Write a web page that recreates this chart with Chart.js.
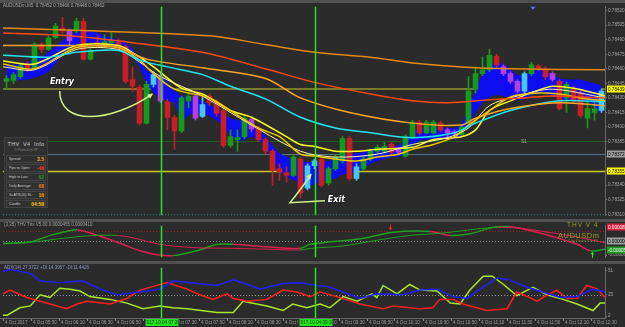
<!DOCTYPE html>
<html>
<head>
<meta charset="utf-8">
<title>AUDUSDm M5 - THV V4</title>
<script src="https://cdn.jsdelivr.net/npm/chart.js"></script>
<style>
  html, body { margin: 0; padding: 0; }
  body { width: 625px; height: 327px; background: #2b2b2b; position: relative; overflow: hidden; font-family: 'Liberation Sans', Arial, sans-serif; }
  canvas { position: absolute; left: 0; }
  .sep { position: absolute; left: 0; width: 625px; background: #505050; }
  .txt { position: absolute; white-space: nowrap; line-height: 1; }
  #info { position: absolute; left: 4px; top: 137px; width: 44px; height: 71px; background: #303030; border: 1px solid #3e3e3e; box-sizing: border-box; color: #cfcfcf; }
  #info .ttl { text-align: center; font-size: 5.5px; margin-top: 3px; letter-spacing: 0.3px; white-space: nowrap; }
  #info .sub { text-align: center; font-size: 3.2px; color: #8a8a8a; margin-top: 1px; margin-bottom: 3px; white-space: nowrap; }
  #info .row { display: flex; justify-content: space-between; align-items: center; height: 8px; margin: 0 1px 1px 1px; padding: 0 1px 0 2px; border: 1px solid #444; box-sizing: border-box; font-size: 3.5px; white-space: nowrap; overflow: hidden; }
  #info .row b { font-size: 5px; }
</style>
</head>
<body>
<div class="sep" style="top:0;height:3px"></div>
<canvas id="mainChart" width="625" height="216" style="top:3px"></canvas>
<div class="sep" style="top:219px;height:3px"></div>
<canvas id="trixChart" width="625" height="39" style="top:222px"></canvas>
<div class="sep" style="top:261px;height:3px"></div>
<canvas id="adxChart" width="625" height="63" style="top:264px"></canvas>

<div class="txt" style="left:3px;top:4px;font-size:4.5px;color:#a8a8a8">AUDUSDm,M5&nbsp; 0.78452 0.78466 0.78448 0.78462</div>
<div class="txt" style="left:4px;top:223px;font-size:4.5px;color:#a0a0a0">(3,35) THV Trix V5.00 0.0000455 0.0000410</div>
<div class="txt" style="left:4px;top:266px;font-size:4.5px;color:#8f9cc0">ADX(14) 27.3722 +DI:14.3957 -DI:11.4426</div>
<div class="txt" style="left:567px;top:222px;font-size:6.5px;color:#9c9c22;letter-spacing:1px">THV V 4</div>
<div class="txt" style="left:558px;top:232px;font-size:7.5px;color:#9c9c22;letter-spacing:0.5px">AUDUSDm</div>
<div class="txt" style="left:568px;top:240px;font-size:3.5px;color:#7c7c22">© by Pedro D in TF</div>

<div id="info">
  <div class="ttl">THV&nbsp; V4&nbsp; Info</div>
  <div class="sub">© Pedro D in TF</div>
  <div class="row"><span>Spread:</span><b style="color:#ffa020">3.5</b></div>
  <div class="row"><span>Pips to Open:</span><b style="color:#ff3c1c">-46</b></div>
  <div class="row"><span>High to Low:</span><b style="color:#1fa01f">62</b></div>
  <div class="row"><span>Daily Average:</span><b style="color:#ff7a1c">68</b></div>
  <div class="row"><span>3x ATR(20) SL:</span><b style="color:#ffb000">16</b></div>
  <div class="row"><span>Candle:</span><b style="color:#ffcc00">04:58</b></div>
</div>

<script>
// ---------- data (AUDUSDm M5, 4 Oct) ----------
const candleOpen = [0.78447,0.78448,0.78452,0.78465,0.78460,0.78485,0.78480,0.78492,0.78502,0.78499,
  0.78499,0.78509,0.78470,0.78487,0.78486,0.78487,0.78487,0.78483,0.78449,0.78441,
  0.78404,0.78444,0.78452,0.78426,0.78410,0.78396,0.78427,0.78432,0.78411,0.78432,
  0.78426,0.78417,0.78381,0.78387,0.78390,0.78408,0.78399,0.78387,0.78375,0.78357,
  0.78353,0.78350,0.78367,0.78337,0.78360,0.78367,0.78342,0.78357,0.78365,0.78388,
  0.78347,0.78357,0.78367,0.78375,0.78375,0.78382,0.78377,0.78370,0.78390,0.78405,
  0.78394,0.78394,0.78404,0.78397,0.78395,0.78392,0.78404,0.78439,0.78455,0.78459,
  0.78473,0.78462,0.78455,0.78447,0.78437,0.78455,0.78463,0.78460,0.78455,0.78447,
  0.78430,0.78440,0.78435,0.78409,0.78415,0.78417];
const candleClose = [0.78450,0.78454,0.78463,0.78461,0.78485,0.78480,0.78492,0.78504,0.78499,0.78489,
  0.78509,0.78470,0.78479,0.78485,0.78488,0.78489,0.78483,0.78447,0.78442,0.78404,
  0.78444,0.78454,0.78427,0.78410,0.78396,0.78430,0.78432,0.78409,0.78423,0.78425,
  0.78414,0.78381,0.78390,0.78389,0.78409,0.78398,0.78387,0.78375,0.78355,0.78354,
  0.78350,0.78369,0.78332,0.78360,0.78365,0.78340,0.78357,0.78369,0.78388,0.78347,
  0.78359,0.78367,0.78375,0.78379,0.78380,0.78374,0.78374,0.78390,0.78405,0.78394,
  0.78405,0.78405,0.78397,0.78394,0.78393,0.78400,0.78437,0.78455,0.78459,0.78474,
  0.78464,0.78455,0.78447,0.78437,0.78455,0.78464,0.78460,0.78452,0.78449,0.78419,
  0.78444,0.78427,0.78412,0.78419,0.78419,0.78437];
const candleHigh = [0.78453,0.78456,0.78465,0.78467,0.78487,0.78487,0.78494,0.78507,0.78513,0.78501,
  0.78512,0.78512,0.78481,0.78494,0.78495,0.78497,0.78491,0.78485,0.78462,0.78443,
  0.78447,0.78457,0.78455,0.78429,0.78412,0.78432,0.78435,0.78434,0.78434,0.78434,
  0.78428,0.78419,0.78397,0.78397,0.78411,0.78409,0.78401,0.78389,0.78377,0.78362,
  0.78359,0.78371,0.78369,0.78362,0.78367,0.78369,0.78359,0.78371,0.78390,0.78390,
  0.78362,0.78369,0.78377,0.78381,0.78384,0.78384,0.78379,0.78392,0.78407,0.78407,
  0.78407,0.78407,0.78406,0.78399,0.78397,0.78402,0.78452,0.78462,0.78472,0.78480,
  0.78475,0.78464,0.78457,0.78449,0.78457,0.78467,0.78465,0.78462,0.78457,0.78449,
  0.78446,0.78442,0.78437,0.78427,0.78427,0.78439];
const candleLow = [0.78439,0.78445,0.78450,0.78457,0.78459,0.78477,0.78479,0.78491,0.78497,0.78485,
  0.78497,0.78469,0.78469,0.78482,0.78483,0.78483,0.78479,0.78445,0.78437,0.78402,
  0.78403,0.78441,0.78425,0.78397,0.78377,0.78394,0.78420,0.78407,0.78410,0.78422,
  0.78411,0.78379,0.78379,0.78375,0.78388,0.78395,0.78385,0.78372,0.78340,0.78345,
  0.78343,0.78349,0.78327,0.78335,0.78357,0.78338,0.78340,0.78355,0.78363,0.78345,
  0.78345,0.78355,0.78365,0.78373,0.78373,0.78372,0.78372,0.78369,0.78388,0.78392,
  0.78393,0.78393,0.78395,0.78387,0.78391,0.78390,0.78402,0.78435,0.78453,0.78457,
  0.78461,0.78453,0.78445,0.78435,0.78435,0.78453,0.78458,0.78449,0.78447,0.78417,
  0.78415,0.78425,0.78410,0.78399,0.78407,0.78415];
// u = bull, d = bear, m = magenta signal bar, c = light-blue signal bar
const candleKind = ['u','u','u','d','u','d','u','u','d','m',
  'u','d','u','d','u','u','d','d','d','d',
  'u','c','m','d','d','u','u','m','c','d',
  'd','d','u','u','u','m','d','d','d','d',
  'd','u','d','c','c','d','u','u','u','d',
  'c','u','u','u','u','d','m','u','u','d',
  'u','u','d','m','m','u','u','u','u','u',
  'd','m','m','m','c','u','d','d','m','d',
  'u','d','d','u','u','c'];

const bandUpper = [0.78465,0.78464,0.78465,0.78467,0.78470,0.78472,0.78477,0.78483,0.78489,0.78494,
  0.78498,0.78500,0.78499,0.78497,0.78494,0.78492,0.78490,0.78487,0.78481,0.78471,
  0.78459,0.78455,0.78453,0.78447,0.78437,0.78432,0.78431,0.78430,0.78427,0.78423,
  0.78419,0.78413,0.78409,0.78407,0.78407,0.78404,0.78399,0.78391,0.78381,0.78373,
  0.78369,0.78367,0.78365,0.78364,0.78364,0.78364,0.78365,0.78367,0.78371,0.78373,
  0.78373,0.78374,0.78376,0.78377,0.78379,0.78380,0.78381,0.78387,0.78395,0.78399,
  0.78400,0.78400,0.78400,0.78399,0.78399,0.78403,0.78419,0.78439,0.78455,0.78464,
  0.78467,0.78465,0.78459,0.78453,0.78454,0.78457,0.78460,0.78459,0.78454,0.78450,
  0.78449,0.78449,0.78449,0.78447,0.78445,0.78443];
const bandLower = [0.78451,0.78449,0.78448,0.78449,0.78451,0.78453,0.78457,0.78465,0.78475,0.78481,
  0.78485,0.78487,0.78487,0.78486,0.78485,0.78484,0.78483,0.78481,0.78475,0.78462,
  0.78445,0.78435,0.78429,0.78427,0.78425,0.78405,0.78412,0.78415,0.78414,0.78411,
  0.78407,0.78401,0.78391,0.78385,0.78387,0.78390,0.78387,0.78379,0.78367,0.78355,
  0.78349,0.78345,0.78341,0.78339,0.78341,0.78343,0.78345,0.78347,0.78351,0.78352,
  0.78353,0.78357,0.78362,0.78365,0.78367,0.78369,0.78369,0.78373,0.78381,0.78386,
  0.78387,0.78387,0.78387,0.78387,0.78388,0.78391,0.78401,0.78415,0.78425,0.78431,
  0.78433,0.78432,0.78429,0.78427,0.78429,0.78433,0.78435,0.78435,0.78432,0.78429,
  0.78427,0.78427,0.78427,0.78427,0.78421,0.78414];

// moving averages, [bar index, price]
const maSlowOrange = [[-0.5,0.78502],[13,0.78499],[29,0.78494],[37,0.78485],[44,0.78477],[52,0.78472],[58,0.78466],[65,0.78462],[72,0.78460],[85.5,0.78459]];
const maRedOrange = [[-0.5,0.78497],[9,0.78494],[18,0.78487],[28,0.78477],[37,0.78460],[44,0.78446],[52,0.78434],[58,0.78427],[63,0.78425],[69,0.78428],[74,0.78430],[78,0.78432],[85.5,0.78430]];
const maOrange = [[-0.5,0.78484],[9,0.78484],[16,0.78482],[20,0.78470],[28,0.78461],[37,0.78450],[42,0.78430],[49,0.78415],[58,0.78404],[65,0.78402],[67,0.78409],[72,0.78419],[79,0.78425],[85.5,0.78422]];
const maCyan = [[-0.5,0.78474],[6,0.78472],[10,0.78477],[16,0.78479],[19,0.78469],[23,0.78462],[28,0.78454],[32,0.78442],[37,0.78429],[42,0.78410],[47,0.78399],[52,0.78394],[58,0.78389],[64,0.78394],[67,0.78404],[72,0.78417],[79,0.78427],[85.5,0.78426]];
const maYellow = [[-0.5,0.78468],[4,0.78465],[10,0.78484],[16,0.78484],[19,0.78472],[21,0.78462],[25,0.78440],[28,0.78434],[32,0.78417],[35,0.78410],[40,0.78390],[42,0.78382],[44,0.78380],[47,0.78375],[50,0.78375],[53,0.78377],[58,0.78379],[61,0.78387],[65,0.78390],[67,0.78397],[69,0.78417],[72,0.78427],[76,0.78438],[78,0.78442],[81,0.78440],[84,0.78435],[85.5,0.78432]];
const maGold = [[-0.5,0.78465],[4,0.78460],[10,0.78482],[16,0.78482],[19,0.78469],[21,0.78455],[24,0.78439],[29,0.78430],[32,0.78417],[36,0.78399],[39,0.78390],[42,0.78372],[44,0.78370],[47,0.78367],[50,0.78365],[53,0.78369],[56,0.78372],[58,0.78377],[61,0.78382],[64,0.78390],[66,0.78402],[69,0.78417],[72,0.78431],[76,0.78435],[79,0.78434],[82,0.78430],[85.5,0.78427]];
const maPale = [[-0.5,0.78462],[4,0.78459],[10,0.78480],[16,0.78480],[19,0.78467],[22,0.78452],[28,0.78432],[35,0.78402],[42,0.78375],[47,0.78369],[53,0.78372],[58,0.78382],[63,0.78389],[66,0.78399],[69,0.78422],[73,0.78432],[78,0.78439],[85.5,0.78430]];

const levelPrices = [0.78439, 0.78386, 0.78372, 0.78355];
const priceTicks = [0.78520,0.78505,0.78490,0.78475,0.78460,0.78445,0.78430,0.78415,0.78400,0.78385,0.78370,0.78355,0.78340,0.78325,0.78310];

// THV Trix
const trixFast = [[-0.5,-0.000015],[3.4,-0.000005],[6.6,0.00004],[8.6,0.00006],[10.1,0.00007],[13.4,0.00003],[16.6,-0.00002],[19.1,-0.00006],[21.5,-0.000085],[23.8,-0.00009],[27.6,-0.000055],[30.1,-0.00002],[32.4,-0.00002],[37.2,-0.000035],[41.9,-0.000045],[43.4,-0.00002],[50.6,0.000015],[55.2,0.000055],[60.5,0.00006],[63.4,0.000035],[66.2,0.000045],[69.5,0.000085],[71.9,0.00009],[76.6,0.000045],[81.5,-0.00002],[83.4,-0.00006],[84.9,-0.000055],[85.5,-0.00005]];
const trixSlow = [[-0.5,-0.000015],[3.8,-0.000005],[8.6,0.00002],[12.4,0.000035],[15.8,0.000035],[18.1,0.00002],[21.9,-0.00002],[26.6,-0.00004],[32.4,-0.000045],[37.2,-0.00005],[41.9,-0.000055],[43.4,-0.000045],[48.1,-0.00003],[52.9,0.000005],[57.6,0.000035],[62.4,0.00005],[67.2,0.000075],[70.1,0.000085],[73.4,0.00008],[76.6,0.00006],[81.5,0.000025],[85.5,-0.00001]];
const trixLevels = [0.000065, 0];
const trixBoxValues = [0.000085, 0, -0.000055];
const trixTicks = [-0.000087];
const trixArrowDown = [54.8, 0.000085];
const trixArrowUp = [83.6, -0.000085];

// ADX(14)
const adxPlusDi = [[-0.5,50],[0.5,52],[3.4,48],[4.8,40],[7.6,38],[10.9,40],[13.4,31],[15.8,25],[19.1,28],[21.9,31],[23.8,40],[26.2,38],[30.1,35],[32.4,41],[34.4,36],[36.2,31],[39.5,37],[41.9,38],[44.4,35],[45.8,34],[48.1,28],[50.5,21],[52.9,26],[56.6,25],[59.1,30],[61.5,31],[63.8,23],[65.8,21],[67.6,31],[70.1,43],[71.9,41],[74.4,33],[76.6,28],[79.1,22],[81.5,23],[83.8,31],[85.5,28]];
const adxMinusDi = [[-0.5,26],[0.5,30],[2.9,22],[4.8,18],[8.6,10],[10.1,15],[11.5,18],[14.8,15],[17.2,21],[19.1,30],[22.9,38],[25.8,31],[27.6,25],[29.5,20],[31.5,26],[32.4,21],[34.4,18],[37.2,20],[39.5,30],[41.5,28],[43.4,23],[44.8,28],[47.2,23],[50.5,15],[53.8,10],[55.2,13],[57.6,11],[59.1,10],[60.9,11],[61.9,20],[63.8,20],[65.2,15],[68.6,8],[71.5,10],[72.9,28],[74.4,23],[75.8,18],[76.6,22],[78.6,30],[80.1,21],[81.5,21],[82.9,35],[84.4,31],[85.5,22]];
const adxMain = [[-0.5,3],[0.1,3],[1.9,11],[3.4,13],[4.8,25],[6.2,22],[7.6,32],[9.1,31],[10.5,29],[11.9,23],[14.8,20],[17.2,16],[19.5,10],[21.9,13],[23.8,11],[25.8,10],[30.1,6],[32.4,6],[33.8,18],[37.2,13],[39.5,8],[40.9,15],[42.9,11],[44.8,15],[46.2,11],[48.1,23],[50.1,18],[52.2,26],[52.9,22],[53.8,35],[55.8,26],[57.6,36],[59.1,30],[61.5,29],[63.4,16],[64.8,15],[66.2,30],[68.1,45],[69.4,45],[71.0,36],[72.9,24],[75.2,33],[77.2,25],[79.5,20],[81.5,15],[83.8,8],[84.8,16],[85.5,16]];
const adxLevel = 25;
const adxTicks = [51, 25, 2];

// time axis
const timeTickIdx = [0,4,8,12,16,20,24,28,32,36,40,44,48,52,56,60,64,68,72,76,80,84];
const timeTickText = ['4 Oct 2017','4 Oct 05:50','4 Oct 06:10','4 Oct 06:30','4 Oct 06:50','4 Oct 07:10','4 Oct 07:30','4 Oct 07:50','4 Oct 08:10','4 Oct 08:30','4 Oct 08:50','4 Oct 09:10','4 Oct 09:30','4 Oct 09:50','4 Oct 10:10','4 Oct 10:30','4 Oct 10:50','4 Oct 11:10','4 Oct 11:30','4 Oct 11:50','4 Oct 12:10','4 Oct 12:30'];
const markerIdx = [22, 44];
const markerText = ['2017.10.04 07:20', '2017.10.04 09:10'];

// annotations, [bar index, price]
const entryLabel = [6.2, 0.78446];
const entryArrow = [[7.6, 0.78437], [7.6, 0.78401], [14.8, 0.78404], [20.8, 0.78434]];
const exitLabel = [45.9, 0.78325];
const exitArrow = [[45.5, 0.78324], [40.5, 0.78322], [43.5, 0.78351]];
const s1Label = [73.5, 0.78386];

// ---------- styles ----------
const kindColor = { u: '#169a1c', d: '#c81e28', m: '#b43ee0', c: '#46c8ff' };
const levelColor = ['#7a7a2e', '#1e5c1e', '#56748f', '#c8c81e'];
const levelWidth = [2, 1, 1, 1.5];
const levelBox = ['#ffff00', null, '#9c9c9c', '#ffff00'];
const markerColor = '#22e622';
const arrowColor = '#d2f28a';
const tickFont = { family: 'Liberation Sans', size: 4.6 };

Chart.defaults.font.family = 'Liberation Sans';

const candleIdx = candleOpen.map((v, i) => i);

function baseOptions(yScale, padBottom) {
  return {
    responsive: false,
    animation: false,
    events: [],
    layout: { padding: { left: 3, right: 0, top: 0, bottom: padBottom } },
    plugins: { legend: { display: false }, tooltip: { enabled: false } },
    scales: {
      x: { type: 'linear', min: -0.5, max: 85.5, offset: false, display: false },
      y: yScale
    }
  };
}

function rightAxis(min, max, ticks, fmt) {
  return {
    position: 'right', min: min, max: max,
    afterFit: s => { s.width = 20; },
    afterBuildTicks: s => { s.ticks = ticks.map(v => ({ value: v })); },
    ticks: { color: '#a4a4a4', font: tickFont, padding: 1, autoSkip: false, callback: fmt },
    grid: { display: true, drawOnChartArea: false, tickLength: 2, color: '#777' },
    border: { display: true, color: '#6a6a6a' }
  };
}

function drawMarkers(chart) {
  const { ctx, chartArea: a, scales: { x } } = chart;
  ctx.save();
  ctx.strokeStyle = markerColor;
  ctx.lineWidth = 1.5;
  markerIdx.forEach(m => {
    const px = Math.round(x.getPixelForValue(m)) + 0.5;
    ctx.beginPath(); ctx.moveTo(px, a.top); ctx.lineTo(px, a.bottom); ctx.stroke();
  });
  ctx.restore();
}

function hLine(ctx, a, py, color, width, dash) {
  ctx.strokeStyle = color;
  ctx.lineWidth = width;
  ctx.setLineDash(dash || []);
  ctx.beginPath(); ctx.moveTo(a.left, py); ctx.lineTo(a.right, py); ctx.stroke();
  ctx.setLineDash([]);
}

function axisBox(chart, value, bg, fg, text) {
  const { ctx, chartArea: a, scales: { y } } = chart;
  const py = Math.round(y.getPixelForValue(value));
  ctx.fillStyle = bg;
  ctx.fillRect(a.right + 2, py - 3.5, chart.width - a.right - 2, 7);
  ctx.fillStyle = fg;
  ctx.font = '4.6px Liberation Sans';
  ctx.textBaseline = 'middle';
  ctx.textAlign = 'left';
  ctx.fillText(text, a.right + 3, py + 0.5);
}

function arrowHead(ctx, fx, fy, tx, ty, size) {
  const ang = Math.atan2(ty - fy, tx - fx);
  ctx.beginPath();
  ctx.moveTo(tx, ty);
  ctx.lineTo(tx - size * Math.cos(ang - 0.45), ty - size * Math.sin(ang - 0.45));
  ctx.lineTo(tx - size * Math.cos(ang + 0.45), ty - size * Math.sin(ang + 0.45));
  ctx.closePath();
  ctx.fill();
}

// ---------- main price chart ----------
const mainDeco = {
  id: 'mainDeco',
  beforeDatasetsDraw(chart) {
    const { ctx, chartArea: a, scales: { x, y } } = chart;
    ctx.save();
    levelPrices.forEach((p, k) => {
      const py = Math.round(y.getPixelForValue(p)) + (levelWidth[k] === 2 ? 0 : 0.5);
      hLine(ctx, a, py, levelColor[k], levelWidth[k]);
    });
    hLine(ctx, a, a.bottom - 0.5, '#2c8c8c', 1, [1, 2]);
    ctx.fillStyle = '#a8a8a8';
    ctx.font = '5px Liberation Sans';
    ctx.textBaseline = 'middle';
    ctx.fillText('S1', x.getPixelForValue(s1Label[0]), y.getPixelForValue(s1Label[1]) + 1);
    // small arrow marker on top edge
    const tx = x.getPixelForValue(75.2);
    ctx.fillStyle = '#5a78ff';
    ctx.beginPath(); ctx.moveTo(tx - 2.5, a.top); ctx.lineTo(tx + 2.5, a.top); ctx.lineTo(tx, a.top + 3); ctx.fill();
    ctx.restore();
  },
  afterDatasetsDraw(chart) {
    const { ctx, scales: { x, y } } = chart;
    drawMarkers(chart);
    const P = pt => [x.getPixelForValue(pt[0]), y.getPixelForValue(pt[1])];
    ctx.save();
    ctx.strokeStyle = arrowColor;
    ctx.fillStyle = arrowColor;
    ctx.lineWidth = 1.5;
    // entry arrow
    const e = entryArrow.map(P);
    ctx.beginPath();
    ctx.moveTo(e[0][0], e[0][1]);
    ctx.bezierCurveTo(e[1][0], e[1][1], e[2][0], e[2][1], e[3][0], e[3][1]);
    ctx.stroke();
    arrowHead(ctx, e[2][0], e[2][1], e[3][0] + 1, e[3][1] - 0.5, 6);
    // exit arrow
    const q = exitArrow.map(P);
    ctx.beginPath();
    ctx.moveTo(q[0][0], q[0][1]);
    ctx.lineTo(q[1][0], q[1][1]);
    ctx.quadraticCurveTo(q[1][0] + 10, q[1][1] - 12, q[2][0], q[2][1]);
    ctx.stroke();
    arrowHead(ctx, q[1][0] + 10, q[1][1] - 12, q[2][0] + 0.5, q[2][1] - 1, 6);
    // labels
    ctx.font = 'italic bold 8px DejaVu Sans';
    ctx.textBaseline = 'middle';
    ctx.shadowColor = '#000';
    ctx.shadowBlur = 2;
    ctx.fillStyle = '#ffffff';
    let p = P(entryLabel);
    ctx.fillText('Entry', p[0], p[1]);
    p = P(exitLabel);
    ctx.fillText('Exit', p[0], p[1]);
    ctx.restore();
  },
  afterDraw(chart) {
    const { ctx } = chart;
    ctx.save();
    levelPrices.forEach((p, k) => {
      if (levelBox[k]) axisBox(chart, p, levelBox[k], '#000', p.toFixed(5));
    });
    ctx.restore();
  }
};

new Chart(document.getElementById('mainChart'), {
  type: 'bar',
  data: {
    labels: candleIdx,
    datasets: [
      { type: 'line', data: bandLower, borderWidth: 0, pointRadius: 0, fill: false, order: 10 },
      { type: 'line', data: bandUpper, borderWidth: 0, pointRadius: 0, fill: '-1', backgroundColor: '#0d0df0', order: 9 },
      { data: candleLow.map((l, i) => [l, candleHigh[i]]), backgroundColor: candleKind.map(k => kindColor[k]), barThickness: 1, grouped: false, order: 6 },
      { data: candleOpen.map((o, i) => [o, candleClose[i]]), backgroundColor: candleKind.map(k => kindColor[k]), barThickness: 5, minBarLength: 1, grouped: false, order: 5 },
      { type: 'line', data: maSlowOrange, borderColor: '#e48a14', borderWidth: 1.5, pointRadius: 0, tension: 0.3, order: 1 },
      { type: 'line', data: maRedOrange, borderColor: '#ff4810', borderWidth: 1.5, pointRadius: 0, tension: 0.3, order: 1 },
      { type: 'line', data: maOrange, borderColor: '#ffa424', borderWidth: 1.5, pointRadius: 0, tension: 0.3, order: 1 },
      { type: 'line', data: maCyan, borderColor: '#22e4f0', borderWidth: 1.5, pointRadius: 0, tension: 0.3, order: 1 },
      { type: 'line', data: maGold, borderColor: '#f0c800', borderWidth: 1.5, pointRadius: 0, tension: 0.3, order: 1 },
      { type: 'line', data: maPale, borderColor: '#fff6a0', borderWidth: 1, pointRadius: 0, tension: 0.3, order: 1 },
      { type: 'line', data: maYellow, borderColor: '#ffff1e', borderWidth: 1.5, pointRadius: 0, tension: 0.3, order: 1 }
    ]
  },
  options: baseOptions(rightAxis(0.78309, 0.78524, priceTicks, v => v.toFixed(5)), 1),
  plugins: [mainDeco]
});

// ---------- THV Trix ----------
const trixUp = '#1ea01e';
const trixDown = '#dc1e50';
const trixDeco = {
  id: 'trixDeco',
  beforeDatasetsDraw(chart) {
    const { ctx, chartArea: a, scales: { y } } = chart;
    ctx.save();
    hLine(ctx, a, Math.round(y.getPixelForValue(trixLevels[0])) + 0.5, '#a02020', 1, [1, 2]);
    hLine(ctx, a, Math.round(y.getPixelForValue(trixLevels[1])) + 0.5, '#8a8a8a', 1, [1, 2]);
    ctx.restore();
  },
  afterDatasetsDraw(chart) {
    const { ctx, scales: { x, y } } = chart;
    drawMarkers(chart);
    ctx.save();
    ctx.lineWidth = 1;
    let ax = Math.round(x.getPixelForValue(trixArrowDown[0])) + 0.5, ay = y.getPixelForValue(trixArrowDown[1]);
    ctx.strokeStyle = ctx.fillStyle = '#ff2020';
    ctx.beginPath(); ctx.moveTo(ax, ay - 3); ctx.lineTo(ax, ay + 1); ctx.stroke();
    ctx.beginPath(); ctx.moveTo(ax - 2, ay + 0.5); ctx.lineTo(ax + 2, ay + 0.5); ctx.lineTo(ax, ay + 3); ctx.fill();
    ax = Math.round(x.getPixelForValue(trixArrowUp[0])) + 0.5; ay = y.getPixelForValue(trixArrowUp[1]);
    ctx.strokeStyle = ctx.fillStyle = '#22ee22';
    ctx.beginPath(); ctx.moveTo(ax, ay + 3); ctx.lineTo(ax, ay - 1); ctx.stroke();
    ctx.beginPath(); ctx.moveTo(ax - 2, ay - 0.5); ctx.lineTo(ax + 2, ay - 0.5); ctx.lineTo(ax, ay - 3); ctx.fill();
    ctx.restore();
  },
  afterDraw(chart) {
    axisBox(chart, trixBoxValues[0], '#d81e3c', '#fff', trixBoxValues[0].toFixed(6));
    axisBox(chart, trixBoxValues[1], '#9c9c9c', '#000', trixBoxValues[1].toFixed(6));
    axisBox(chart, trixBoxValues[2], '#1e9a1e', '#fff', trixBoxValues[2].toFixed(6));
  }
};

const trixSegment = { borderColor: c => c.p1.parsed.y >= c.p0.parsed.y ? trixUp : trixDown };
new Chart(document.getElementById('trixChart'), {
  type: 'line',
  data: {
    datasets: [
      { data: trixSlow, borderWidth: 1, pointRadius: 0, tension: 0.3, borderColor: trixUp, segment: trixSegment },
      { data: trixFast, borderWidth: 1.5, pointRadius: 0, tension: 0.3, borderColor: trixUp, segment: trixSegment }
    ]
  },
  options: baseOptions(rightAxis(-0.0001, 0.000095, trixTicks, v => v.toFixed(6)), 0),
  plugins: [trixDeco]
});

// ---------- ADX ----------
const adxDeco = {
  id: 'adxDeco',
  beforeDatasetsDraw(chart) {
    const { ctx, chartArea: a, scales: { y } } = chart;
    ctx.save();
    hLine(ctx, a, Math.round(y.getPixelForValue(adxLevel)) + 0.5, '#9a9a9a', 1, [1, 2]);
    ctx.restore();
  },
  afterDatasetsDraw(chart) {
    drawMarkers(chart);
  },
  afterDraw(chart) {
    const { ctx, chartArea: a, scales: { x } } = chart;
    ctx.save();
    // time scale strip
    ctx.strokeStyle = '#6a6a6a';
    ctx.lineWidth = 1;
    ctx.beginPath(); ctx.moveTo(0, a.bottom + 0.5); ctx.lineTo(a.right, a.bottom + 0.5); ctx.stroke();
    ctx.font = '4.6px Liberation Sans';
    ctx.textBaseline = 'middle';
    ctx.textAlign = 'left';
    timeTickIdx.forEach((t, k) => {
      const px = Math.round(x.getPixelForValue(t)) - 3.5;
      ctx.strokeStyle = '#8a8a8a';
      ctx.beginPath(); ctx.moveTo(px, a.bottom + 1); ctx.lineTo(px, a.bottom + 3); ctx.stroke();
      ctx.fillStyle = '#9c9c9c';
      ctx.fillText(timeTickText[k], px + 1.5, a.bottom + 5);
    });
    markerIdx.forEach((m, k) => {
      const px = Math.round(x.getPixelForValue(m)) + 0.5;
      ctx.fillStyle = '#22e622';
      ctx.fillRect(px - 16, a.bottom + 1, 33, 7);
      ctx.fillStyle = '#0a3a0a';
      ctx.textAlign = 'center';
      ctx.fillText(markerText[k], px + 0.5, a.bottom + 4.8);
      ctx.textAlign = 'left';
    });
    ctx.restore();
  }
};

new Chart(document.getElementById('adxChart'), {
  type: 'line',
  data: {
    datasets: [
      { data: adxPlusDi, borderColor: '#1e1eff', borderWidth: 1.5, pointRadius: 0, tension: 0 },
      { data: adxMinusDi, borderColor: '#ff1e1e', borderWidth: 1.5, pointRadius: 0, tension: 0 },
      { data: adxMain, borderColor: '#a8e62a', borderWidth: 1.5, pointRadius: 0, tension: 0 }
    ]
  },
  options: baseOptions(rightAxis(0, 54, adxTicks, v => String(v)), 9),
  plugins: [adxDeco]
});
</script>
</body>
</html>
